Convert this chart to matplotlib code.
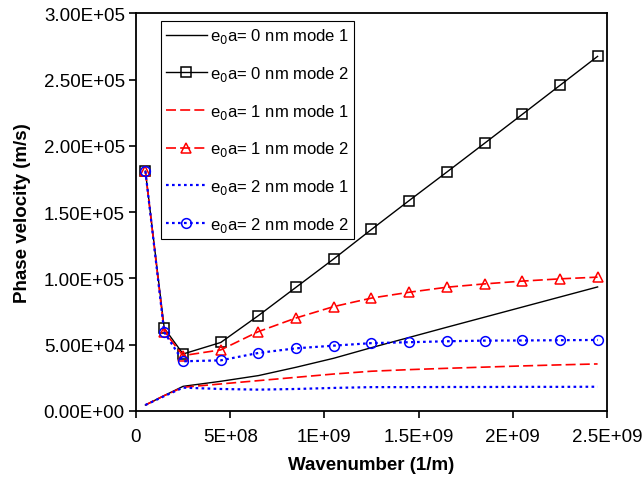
import matplotlib.pyplot as plt
from matplotlib.ticker import FixedLocator

plt.rcParams['font.family'] = ['Liberation Sans', 'DejaVu Sans']

# Wavenumber (1/m)
k = [0.05e9, 0.15e9, 0.25e9, 0.45e9, 0.65e9, 0.85e9, 1.05e9, 1.25e9,
     1.45e9, 1.65e9, 1.85e9, 2.05e9, 2.25e9, 2.45e9]

# Phase velocity (m/s), three nonlocal parameters, two modes each
v0_m1 = [0.045e5, 0.116e5, 0.186e5, 0.224e5, 0.267e5, 0.330e5, 0.398e5, 0.478e5,
         0.555e5, 0.632e5, 0.708e5, 0.784e5, 0.860e5, 0.936e5]
v0_m2 = [1.81e5, 0.625e5, 0.43e5, 0.517e5, 0.72e5, 0.934e5, 1.148e5, 1.37e5,
         1.588e5, 1.803e5, 2.02e5, 2.238e5, 2.457e5, 2.676e5]
v1_m1 = [0.045e5, 0.116e5, 0.179e5, 0.204e5, 0.229e5, 0.254e5, 0.279e5, 0.300e5,
         0.312e5, 0.322e5, 0.331e5, 0.340e5, 0.348e5, 0.355e5]
v1_m2 = [1.81e5, 0.599e5, 0.418e5, 0.461e5, 0.599e5, 0.702e5, 0.788e5, 0.852e5,
         0.896e5, 0.934e5, 0.959e5, 0.980e5, 0.997e5, 1.01e5]
v2_m1 = [0.045e5, 0.112e5, 0.176e5, 0.166e5, 0.161e5, 0.166e5, 0.174e5, 0.180e5,
         0.180e5, 0.181e5, 0.181e5, 0.182e5, 0.182e5, 0.183e5]
v2_m2 = [1.81e5, 0.594e5, 0.375e5, 0.382e5, 0.438e5, 0.473e5, 0.493e5, 0.512e5,
         0.519e5, 0.526e5, 0.531e5, 0.532e5, 0.534e5, 0.536e5]

xticks = [0, 5e8, 1e9, 1.5e9, 2e9, 2.5e9]
xlabels = ['0', '5E+08', '1E+09', '1.5E+09', '2E+09', '2.5E+09']
yticks = [0, 5e4, 1e5, 1.5e5, 2e5, 2.5e5, 3e5]
ylabels = ['0.00E+00', '5.00E+04', '1.00E+05', '1.50E+05', '2.00E+05', '2.50E+05', '3.00E+05']

fig = plt.figure(figsize=(6.42, 4.81), dpi=100)
ax = fig.add_axes([0.2118, 0.1435, 0.7337, 0.8265])

dash = (0, (6, 2.5))
dots = (0, (1.2, 1.5))
ax.plot(k, v0_m1, color='black', lw=1.0, label=r'e$_0$a= 0 nm mode 1')
ax.plot(k, v0_m2, color='black', lw=1.0, marker='s', ms=7, mfc='none',
        mew=1.1, label=r'e$_0$a= 0 nm mode 2')
ax.plot(k, v1_m1, color='red', lw=1.2, ls=dash, label=r'e$_0$a= 1 nm mode 1')
ax.plot(k, v1_m2, color='red', lw=1.2, ls=dash, marker='^', ms=7.5, mfc='none',
        mew=1.1, label=r'e$_0$a= 1 nm mode 2')
ax.plot(k, v2_m1, color='blue', lw=1.6, ls=dots, label=r'e$_0$a= 2 nm mode 1')
ax.plot(k, v2_m2, color='blue', lw=1.6, ls=dots, marker='o', ms=7, mfc='none',
        mew=1.1, label=r'e$_0$a= 2 nm mode 2')

ax.set_xlim(0, 2.5e9)
ax.set_ylim(0, 3e5)
ax.xaxis.set_major_locator(FixedLocator(xticks))
ax.set_xticklabels(xlabels, fontsize=13.5)
ax.yaxis.set_major_locator(FixedLocator(yticks))
ax.set_yticklabels(ylabels, fontsize=13.5)
ax.tick_params(direction='out', length=5, width=1.2, top=False, right=False)
ax.tick_params(axis='x', pad=7)
ax.tick_params(axis='y', pad=3)
for s in ax.spines.values():
    s.set_linewidth(1.3)

ax.set_xlabel('Wavenumber (1/m)', fontsize=13.5, fontweight='bold', labelpad=8)
ax.set_ylabel('Phase velocity (m/s)', fontsize=13.5, fontweight='bold', labelpad=9)

leg = ax.legend(loc='upper left', bbox_to_anchor=(0.053, 0.98), borderaxespad=0,
                fontsize=12, frameon=True, fancybox=False, edgecolor='black',
                framealpha=1, handlelength=2.45, labelspacing=1.12, borderpad=0.3,
                handletextpad=0.2)
leg.get_frame().set_linewidth(0.8)

fig.savefig('out.png', dpi=100)
